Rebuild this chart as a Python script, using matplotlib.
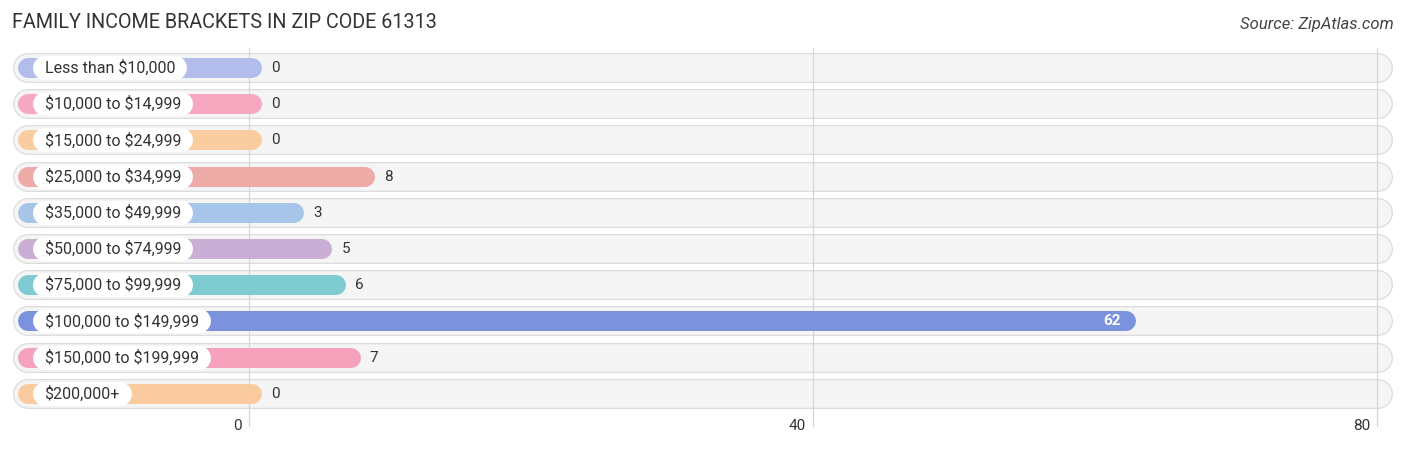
import matplotlib.pyplot as plt

# --- DATA ---
categories = [
    "Less than $10,000",
    "$10,000 to $14,999",
    "$15,000 to $24,999",
    "$25,000 to $34,999",
    "$35,000 to $49,999",
    "$50,000 to $74,999",
    "$75,000 to $99,999",
    "$100,000 to $149,999",
    "$150,000 to $199,999",
    "$200,000+",
]
values = [0, 0, 0, 8, 3, 5, 6, 62, 7, 0]
bar_colors = [
    "#b3bdeb", "#f6a8c1", "#f9cd9f", "#eeaaa6", "#a7c5e9",
    "#c9aed5", "#7ecbd1", "#7b93df", "#f6a2bd", "#f9cb9f",
]
x_ticks = [0, 40, 80]

plt.rcParams["font.family"] = ["Roboto", "DejaVu Sans"]
plt.rcParams["text.parse_math"] = False

fig = plt.figure(figsize=(14.06, 4.5), dpi=100)
ax = fig.add_axes([0, 0, 1, 1])

# pixel mapping: 0 -> 249px, 40 -> 813px
px_per_unit = (813 - 249) / 40
ax.set_xlim(-249 / px_per_unit, (1406 - 249) / px_per_unit)
row_step = 36.2
ax.set_ylim((450 - 68) / row_step, -68 / row_step)
ax.axis("off")

bar_start = -15.7
track_end = 80.1
cap = 12 / px_per_unit
renderer = fig.canvas.get_renderer()

for i, (cat, val, col) in enumerate(zip(categories, values, bar_colors)):
    # background track with soft border
    ax.plot([bar_start, track_end], [i, i], color="#dcdcdc", lw=21.6,
            solid_capstyle="round", zorder=1)
    ax.plot([bar_start, track_end], [i, i], color="#f5f5f5", lw=19.8,
            solid_capstyle="round", zorder=2)
    # value bar
    end = val + 0.2
    ax.plot([bar_start, end], [i, i], color=col, lw=14.4,
            solid_capstyle="round", zorder=4)
    # category label in white pill
    t = ax.text(-14.5, i, cat, ha="left", va="center", fontsize=11.5,
                color="#333333", zorder=7)
    bb = t.get_window_extent(renderer)
    x0 = ax.transData.inverted().transform((bb.x0, 0))[0]
    x1 = ax.transData.inverted().transform((bb.x1, 0))[0]
    ax.plot([x0, x1], [i, i], color="white", lw=17.3,
            solid_capstyle="round", zorder=6)
    # value label
    if val > 50:
        ax.text(end + cap - 1.2, i, str(val), ha="right", va="center",
                fontsize=11, color="white", fontweight="bold", zorder=6)
    else:
        ax.text(end + cap + 0.5, i, str(val), ha="left", va="center",
                fontsize=11, color="#333333", zorder=6)

# vertical gridlines and tick labels
for t in x_ticks:
    ax.plot([t, t], [-0.55, len(categories) - 0.1], color="#d6d6d6", lw=0.9,
            zorder=3)
    ax.text(t - 0.5, len(categories) - 0.1, str(t), ha="right", va="center",
            fontsize=11, color="#333333")

fig.text(12 / 1406, 1 - 22 / 450, "FAMILY INCOME BRACKETS IN ZIP CODE 61313",
         ha="left", va="center", fontsize=14.2, color="#333333")
fig.text(1394 / 1406, 1 - 24 / 450, "Source: ZipAtlas.com", ha="right",
         va="center", fontsize=12, color="#444444", style="italic")

fig.savefig("out.png", dpi=100)
